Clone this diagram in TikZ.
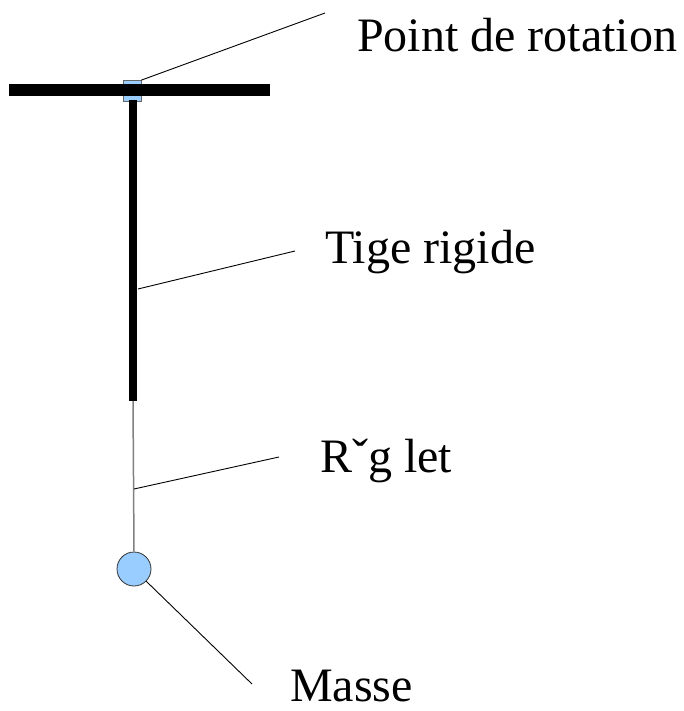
\documentclass[tikz,border=0pt]{standalone}
\usepackage{fontspec}
\setmainfont{Liberation Serif}
\usetikzlibrary{positioning}
\definecolor{lightblue}{HTML}{99CCFF}

\begin{document}
\begin{tikzpicture}[
    x=1pt, y=-1pt,
    legend/.style={anchor=base west, inner sep=0pt, font=\fontsize{48}{58}\selectfont},
    leader/.style={draw=black, line width=0.9pt},
    bar/.style={line width=12pt},
    rod/.style={line width=8pt},
    thread/.style={draw=gray, line width=1.5pt},
    pivot/.style={rectangle, draw=gray!80!black, fill=lightblue, minimum width=18pt, minimum height=21pt, inner sep=0pt, line width=0.8pt},
    mass/.style={circle, draw=gray!40!black, fill=lightblue, minimum size=34pt, inner sep=0pt, line width=0.8pt}
]
\useasboundingbox (0,0) rectangle (683,711);

% Support and pendulum
\coordinate (barL) at (9,90);
\coordinate (barR) at (270,90);
\coordinate (rodTop) at (133,100);
\coordinate (rodEnd) at (133,401);
\node[pivot] (pivot) at (132,91) {};
\node[mass] (masse) at (134,569) {};
\draw[bar] (barL) -- (barR);
\draw[rod] (rodTop) -- (rodEnd);
\draw[thread] (rodEnd) -- (masse.north);

% Labels
\node[legend] (rotation) at (357,52) {Point de rotation};
\node[legend] (tige) at (325,263) {Tige rigide};
\node[legend] (reglet) at (320,472) {Rˇg let};
\node[legend] (masselbl) at (290,701) {Masse};

% Leader lines
\coordinate (rotEnd) at (325,13);
\coordinate (tigeStart) at (138,289);
\coordinate (tigeEnd) at (295,251);
\coordinate (regStart) at (134,489);
\coordinate (regEnd) at (279,457);
\coordinate (masseEnd) at (252,684);
\draw[leader] (pivot.north east) -- (rotEnd);
\draw[leader] (tigeStart) -- (tigeEnd);
\draw[leader] (regStart) -- (regEnd);
\draw[leader] (masse.-45) -- (masseEnd);

\end{tikzpicture}
\end{document}
